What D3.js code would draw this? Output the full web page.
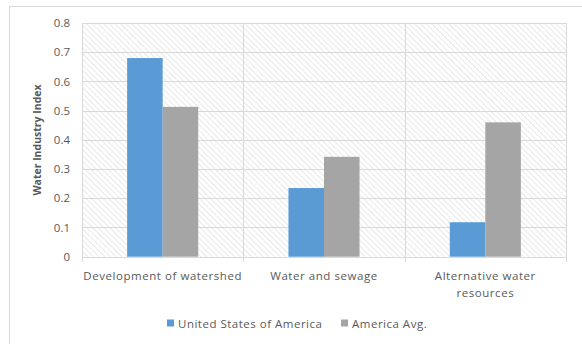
<!DOCTYPE html>
<html>
<head>
<meta charset="utf-8">
<script src="https://cdn.jsdelivr.net/npm/d3@7"></script>
<style>
  html, body { margin: 0; padding: 0; background: #fff; }
  svg { display: block; }
  text { font-family: "Open Sans", "Liberation Sans", sans-serif; fill: #595959; }
</style>
</head>
<body>
<svg id="chart" width="582" height="344"></svg>
<script>
const categories = ["Development of watershed", "Water and sewage", "Alternative water resources"];
const seriesNames = ["United States of America", "America Avg."];
const usaValues = [0.68, 0.235, 0.118];
const avgValues = [0.513, 0.342, 0.46];
const yTicks = [0, 0.1, 0.2, 0.3, 0.4, 0.5, 0.6, 0.7, 0.8];
const colors = ["#5b9bd5", "#a5a5a5"];

const svg = d3.select("#chart");
const plot = { left: 82, right: 566, top: 23, bottom: 256.7 };

// chart frame
svg.append("rect")
  .attr("x", 9.5).attr("y", 6.5).attr("width", 600).attr("height", 400)
  .attr("fill", "#fff").attr("stroke", "#d9d9d9").attr("stroke-width", 1);

// diagonal hatch fill for the plot area
const defs = svg.append("defs");
const pat = defs.append("pattern")
  .attr("id", "hatch").attr("patternUnits", "userSpaceOnUse")
  .attr("width", 4).attr("height", 4)
  .attr("patternTransform", "rotate(-45)");
pat.append("rect").attr("width", 4).attr("height", 4).attr("fill", "#ffffff");
pat.append("line").attr("x1", 0).attr("y1", 0).attr("x2", 0).attr("y2", 4)
  .attr("stroke", "#dcdcdc").attr("stroke-width", 1.3);

const x = d3.scaleBand().domain(categories).range([plot.left, plot.right]).paddingInner(0).paddingOuter(0);
const xs = d3.scaleBand().domain(seriesNames).range([0, x.bandwidth()]).paddingInner(0).paddingOuter(1.27);
const y = d3.scaleLinear().domain([0, 0.8]).range([plot.bottom, plot.top]);

svg.append("rect")
  .attr("x", plot.left).attr("y", plot.top)
  .attr("width", plot.right - plot.left).attr("height", plot.bottom - plot.top)
  .attr("fill", "url(#hatch)");

// horizontal gridlines
svg.append("g").selectAll("line").data(yTicks).join("line")
  .attr("x1", plot.left).attr("x2", plot.right)
  .attr("y1", d => Math.round(y(d)) + 0.5).attr("y2", d => Math.round(y(d)) + 0.5)
  .attr("stroke", "#d9d9d9").attr("stroke-width", 1);

// category dividers
const dividers = categories.map(c => x(c)).concat([plot.right]);
svg.append("g").selectAll("line").data(dividers).join("line")
  .attr("x1", d => Math.round(d) + 0.5).attr("x2", d => Math.round(d) + 0.5)
  .attr("y1", plot.top).attr("y2", plot.bottom + 5)
  .attr("stroke", "#d9d9d9").attr("stroke-width", 1);

// bars
const rows = categories.map((c, i) => ({ c, vals: [usaValues[i], avgValues[i]] }));
const groups = svg.append("g").selectAll("g").data(rows).join("g")
  .attr("transform", d => `translate(${x(d.c)},0)`);
groups.selectAll("rect").data(d => d.vals.map((v, j) => ({ v, s: seriesNames[j], j }))).join("rect")
  .attr("x", d => xs(d.s)).attr("width", xs.bandwidth())
  .attr("y", d => y(d.v)).attr("height", d => y(0) - y(d.v))
  .attr("fill", d => colors[d.j]);

// y axis labels
const yAxis = d3.axisLeft(y).tickValues(yTicks).tickSize(0).tickPadding(0)
  .tickFormat(d => d === 0 ? "0" : d3.format(".1f")(d));
const ya = svg.append("g").attr("transform", `translate(${plot.left - 12},0)`).call(yAxis);
ya.select(".domain").remove();
ya.selectAll("text").attr("font-size", "11.5px").attr("fill", "#595959")
  .style("font-family", "'Open Sans', sans-serif");

// x axis labels
const xAxis = d3.axisBottom(x).tickSize(0).tickPadding(0).tickFormat("");
const xa = svg.append("g").attr("transform", `translate(0,${plot.bottom})`).call(xAxis);
xa.select(".domain").remove();
const wrapped = { "Alternative water resources": ["Alternative water", "resources"] };
categories.forEach(c => {
  const lines = wrapped[c] || [c];
  const t = svg.append("text")
    .attr("x", x(c) + x.bandwidth() / 2)
    .attr("y", 280)
    .attr("text-anchor", "middle")
    .attr("font-size", "11.5px")
    .attr("letter-spacing", "0.55px");
  lines.forEach((ln, k) => t.append("tspan").attr("x", x(c) + x.bandwidth() / 2).attr("dy", k === 0 ? 0 : 17).text(ln));
});

// y axis title
svg.append("text")
  .attr("transform", `translate(41,${140}) rotate(-90)`)
  .attr("text-anchor", "middle")
  .attr("font-size", "10.5px").attr("font-weight", "bold")
  .text("Water Industry Index");

// legend
const legend = svg.append("g");
const legendX = [167, 341];
seriesNames.forEach((s, i) => {
  legend.append("rect").attr("x", legendX[i]).attr("y", 319.5).attr("width", 7).attr("height", 7).attr("fill", colors[i]);
  legend.append("text").attr("x", legendX[i] + 11).attr("y", 327.5).attr("font-size", "11.5px")
    .attr("letter-spacing", "0.5px").text(s);
});
</script>
</body>
</html>
